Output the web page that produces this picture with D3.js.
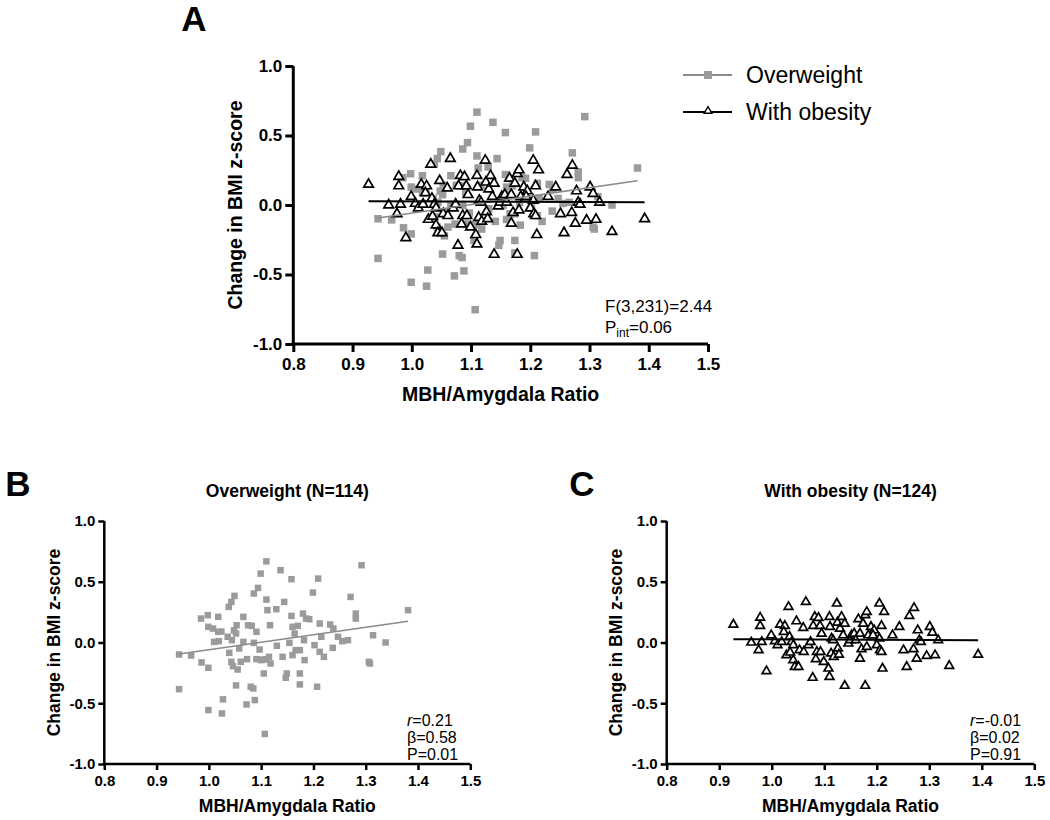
<!DOCTYPE html>
<html>
<head>
<meta charset="utf-8">
<script src="https://cdn.jsdelivr.net/npm/d3@7"></script>
<style>
  body { margin: 0; background: #fff; }
  svg { display: block; font-family: "Liberation Sans", Arial, sans-serif; }
</style>
</head>
<body>
<svg id="chart" width="1050" height="820"></svg>
<script>
// ---------- DATA ----------
const xTicks = [0.8, 0.9, 1.0, 1.1, 1.2, 1.3, 1.4, 1.5];
const yTicks = [-1.0, -0.5, 0.0, 0.5, 1.0];
const seriesNames = ["Overweight", "With obesity"];

// Overweight: [MBH/Amygdala ratio, change in BMI z-score]
const overweightX = [0.943,0.966,0.943,0.985,0.998,1.018,0.999,1.008,1.018,1.010,1.019,0.986,0.999,0.999,1.025,1.027,1.038,1.043,1.049,1.036,1.044,1.039,1.043,1.046,1.055,1.053,1.052,1.058,1.061,1.052,1.066,1.075,1.082,1.091,1.073,1.080,1.085,1.072,1.088,1.086,1.094,1.099,1.110,1.086,1.097,1.091,1.100,1.110,1.118,1.105,1.107,1.110,1.112,1.117,1.115,1.129,1.130,1.137,1.141,1.144,1.147,1.149,1.154,1.158,1.158,1.160,1.164,1.170,1.160,1.166,1.174,1.174,1.174,1.180,1.186,1.192,1.182,1.183,1.199,1.209,1.202,1.212,1.215,1.212,1.220,1.207,1.232,1.238,1.237,1.247,1.255,1.266,1.271,1.281,1.281,1.292,1.306,1.308,1.314,1.338,1.381,1.066,1.048,1.024,1.104];
const overweightY = [-0.099,-0.107,-0.384,0.197,0.225,0.211,0.129,0.115,0.088,0.005,0.011,-0.164,-0.208,-0.556,-0.584,-0.468,0.293,0.334,0.384,0.047,0.019,-0.085,-0.159,-0.195,-0.222,0.142,0.074,-0.049,-0.159,-0.353,0.211,0.142,0.137,0.088,-0.137,-0.364,-0.378,-0.510,-0.474,0.403,0.449,0.567,0.668,-0.003,-0.058,-0.137,-0.145,-0.140,-0.173,-0.255,-0.753,0.353,0.266,0.142,-0.118,0.274,-0.027,0.595,-0.118,0.334,-0.290,-0.255,-0.003,0.521,0.219,0.129,0.074,0.137,-0.104,-0.063,-0.063,-0.255,-0.345,0.238,0.197,0.192,0.019,-0.145,0.411,0.526,-0.022,0.156,0.047,-0.077,-0.118,-0.364,0.148,0.115,-0.044,0.047,0.011,0.019,0.375,0.238,0.197,0.636,-0.159,-0.173,0.060,0.000,0.266,0.005,0.100,0.090,-0.140];

// With obesity
const obesityX = [0.927,0.961,0.975,0.978,0.978,0.981,0.990,0.999,1.006,1.011,1.016,1.025,1.023,1.028,1.032,1.034,1.038,1.035,1.041,1.044,1.051,1.047,1.053,1.060,1.061,1.065,1.070,1.074,1.078,1.082,1.079,1.086,1.084,1.089,1.092,1.095,1.093,1.099,1.108,1.110,1.110,1.111,1.114,1.113,1.118,1.124,1.125,1.126,1.130,1.128,1.133,1.139,1.139,1.136,1.146,1.149,1.152,1.157,1.165,1.168,1.168,1.171,1.174,1.178,1.181,1.178,1.181,1.184,1.189,1.192,1.195,1.200,1.205,1.209,1.214,1.206,1.209,1.211,1.205,1.230,1.243,1.251,1.257,1.262,1.271,1.270,1.276,1.278,1.281,1.284,1.295,1.301,1.306,1.311,1.317,1.338,1.393,1.193,1.117,1.160,1.041,1.019];
const obesityY = [0.148,0.000,-0.063,0.205,0.137,0.005,-0.236,0.060,0.011,-0.022,0.148,0.137,0.088,-0.104,0.293,0.047,0.005,-0.082,-0.145,-0.200,-0.200,0.175,-0.063,0.121,-0.077,0.334,-0.022,0.005,-0.290,0.211,0.137,-0.077,-0.137,0.203,0.137,0.074,-0.077,-0.159,-0.214,-0.282,0.211,0.129,0.033,-0.090,-0.118,0.321,0.164,-0.049,0.115,-0.099,0.211,0.156,-0.356,0.060,-0.008,0.019,0.060,0.074,0.192,0.074,-0.132,-0.055,0.156,0.225,0.252,-0.356,-0.036,0.060,0.129,0.047,0.101,-0.022,0.321,0.137,0.252,-0.063,-0.077,-0.214,0.033,0.060,0.129,-0.063,-0.200,0.219,0.285,-0.055,-0.132,0.101,0.019,0.005,-0.110,0.129,0.082,-0.104,0.019,-0.192,-0.099,0.060,0.019,0.019,-0.022,0.005];

// Fitted regression lines: [x start, x end], [y start, y end]
const overweightFitX = [0.943, 1.381];
const overweightFitY = [-0.094, 0.175];
const obesityFitX = [0.927, 1.393];
const obesityFitY = [0.027, 0.019];

const statsA = ["F(3,231)=2.44", "P_int=0.06"];
const statsB = [["r", "=0.21"], ["β", "=0.58"], ["P", "=0.01"]];
const statsC = [["r", "=-0.01"], ["β", "=0.02"], ["P", "=0.91"]];

// ---------- DRAWING ----------
const svg = d3.select("#chart");
const GRAY = "#9b9b9b";
const FIT_GRAY = "#8a8a8a";

const ow = overweightX.map((x, i) => ({x, y: overweightY[i]}));
const ob = obesityX.map((x, i) => ({x, y: obesityY[i]}));

function panel(cfg) {
  const g = svg.append("g");
  const x = d3.scaleLinear().domain([0.8, 1.5]).range([cfg.x0, cfg.x1]);
  const y = d3.scaleLinear().domain([-1, 1]).range([cfg.yb, cfg.yt]);
  const fmt = d => d.toFixed(1);

  const xa = g.append("g").attr("transform", `translate(0,${cfg.yb})`)
    .call(d3.axisBottom(x).tickValues(xTicks).tickFormat(fmt)
      .tickSize(cfg.tick).tickSizeOuter(0).tickPadding(cfg.xpad));
  const ya = g.append("g").attr("transform", `translate(${cfg.x0},0)`)
    .call(d3.axisLeft(y).tickValues(yTicks).tickFormat(fmt)
      .tickSize(cfg.tick).tickSizeOuter(0).tickPadding(cfg.ypad));
  [xa, ya].forEach(a => {
    a.select(".domain").attr("stroke", "#000").attr("stroke-width", cfg.axisW);
    a.selectAll(".tick line").attr("stroke", "#000").attr("stroke-width", cfg.axisW);
    a.selectAll(".tick text").attr("fill", "#000").attr("font-size", cfg.tickFont)
      .attr("font-weight", "bold").attr("font-family", "'Liberation Sans', Arial, sans-serif");
  });
  xa.select(".domain").attr("d", `M${-cfg.axisW/2 + cfg.x0},0H${cfg.x1}`);
  ya.select(".domain").attr("d", `M0,${cfg.yt}V${cfg.yb}`);

  g.append("text").attr("x", (cfg.x0 + cfg.x1) / 2).attr("y", cfg.xTitleY)
    .attr("text-anchor", "middle").attr("font-weight", "bold")
    .attr("font-size", cfg.titleFont).text("MBH/Amygdala Ratio");
  g.append("text")
    .attr("transform", `translate(${cfg.yTitleX},${(cfg.yt + cfg.yb) / 2}) rotate(-90)`)
    .attr("text-anchor", "middle").attr("font-weight", "bold")
    .attr("font-size", cfg.titleFont).text("Change in BMI z-score");

  const plot = g.append("g");
  if (cfg.showOw) {
    plot.selectAll("rect.ow").data(ow).join("rect").attr("class", "ow")
      .attr("x", d => x(d.x) - cfg.sq / 2).attr("y", d => y(d.y) - cfg.sq / 2)
      .attr("width", cfg.sq).attr("height", cfg.sq).attr("fill", GRAY);
  }
  if (cfg.showOb) {
    const tri = d3.symbol().type(d3.symbolTriangle).size(cfg.tri);
    plot.selectAll("path.ob").data(ob).join("path").attr("class", "ob")
      .attr("d", tri).attr("transform", d => `translate(${x(d.x)},${y(d.y)})`)
      .attr("fill", "#fff").attr("stroke", "#000").attr("stroke-width", 1.7);
  }
  const line = d3.line().x(d => x(d[0])).y(d => y(d[1]));
  if (cfg.showOw) {
    plot.append("path").datum(overweightFitX.map((v, i) => [v, overweightFitY[i]]))
      .attr("d", line).attr("stroke", FIT_GRAY).attr("stroke-width", 1.6).attr("fill", "none");
  }
  if (cfg.showOb) {
    plot.append("path").datum(obesityFitX.map((v, i) => [v, obesityFitY[i]]))
      .attr("d", line).attr("stroke", "#000").attr("stroke-width", 2).attr("fill", "none");
  }
  return {g, x, y};
}

// Panel A
panel({x0: 293.3, x1: 708, yt: 66, yb: 344, tick: 8, xpad: 6, ypad: 3, axisW: 3,
  tickFont: 17, titleFont: 19.5, xTitleY: 401, yTitleX: 242, sq: 7.5, tri: 40, showOw: true, showOb: true});
// Panel B
panel({x0: 104.3, x1: 470.3, yt: 521, yb: 764, tick: 6, xpad: 5, ypad: 3, axisW: 2.5,
  tickFont: 15, titleFont: 17.5, xTitleY: 812, yTitleX: 60, sq: 6.5, tri: 30, showOw: true, showOb: false});
// Panel C
panel({x0: 666.7, x1: 1034.3, yt: 521, yb: 764, tick: 6, xpad: 5, ypad: 3, axisW: 2.5,
  tickFont: 15, titleFont: 17.5, xTitleY: 812, yTitleX: 622, sq: 6.5, tri: 33, showOw: false, showOb: true});

// Panel letters
[["A", 194, 31], ["B", 18, 496], ["C", 582, 496]].forEach(([t, px, py]) => {
  svg.append("text").attr("x", px).attr("y", py).attr("text-anchor", "middle")
    .attr("font-size", 35).attr("font-weight", "bold").text(t);
});

// Panel titles
svg.append("text").attr("x", 287.3).attr("y", 497).attr("text-anchor", "middle")
  .attr("font-weight", "bold").attr("font-size", 17.5).text("Overweight (N=114)");
svg.append("text").attr("x", 850.5).attr("y", 497).attr("text-anchor", "middle")
  .attr("font-weight", "bold").attr("font-size", 17.5).text("With obesity (N=124)");

// Legend (panel A)
const legend = svg.append("g");
[[0, GRAY, "sq"], [1, "#000", "tri"]].forEach(([i, col, m]) => {
  const ly = 75 + i * 37;
  legend.append("line").attr("x1", 683).attr("x2", 732).attr("y1", ly).attr("y2", ly)
    .attr("stroke", i === 0 ? FIT_GRAY : "#000").attr("stroke-width", 2);
  if (m === "sq") {
    legend.append("rect").attr("x", 708 - 4).attr("y", ly - 4).attr("width", 8).attr("height", 8).attr("fill", GRAY);
  } else {
    legend.append("path").attr("d", d3.symbol().type(d3.symbolTriangle).size(26))
      .attr("transform", `translate(708,${ly - 1})`).attr("fill", "#fff").attr("stroke", "#000").attr("stroke-width", 1.4);
  }
  legend.append("text").attr("x", 746).attr("y", ly + 8).attr("font-size", 23).text(seriesNames[i]);
});

// Stats annotations
const sa = svg.append("g").attr("font-size", 17);
sa.append("text").attr("x", 605).attr("y", 312).text(statsA[0]);
const p2 = sa.append("text").attr("x", 605).attr("y", 333);
const parts = statsA[1].split("_");
p2.append("tspan").text(parts[0]);
p2.append("tspan").attr("font-size", 12).attr("dy", 4).text(parts[1].split("=")[0]);
p2.append("tspan").attr("dy", -4).text("=" + parts[1].split("=")[1]);

function stats(lines, x0) {
  lines.forEach(([a, b], i) => {
    const t = svg.append("text").attr("x", x0).attr("y", 726 + i * 17).attr("font-size", 16);
    t.append("tspan").attr("font-style", a === "r" ? "italic" : "normal").text(a);
    t.append("tspan").text(b);
  });
}
stats(statsB, 407);
stats(statsC, 970);
</script>
</body>
</html>
